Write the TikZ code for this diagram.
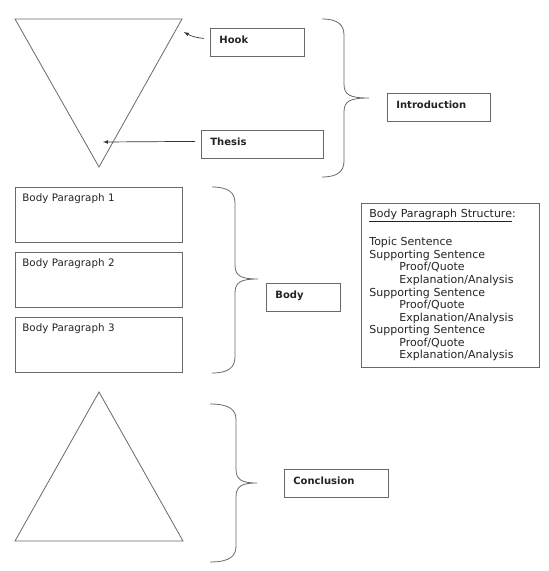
\documentclass[tikz,border=0pt]{standalone}
\usepackage{fontspec}
\setmainfont{DejaVu Sans}
\definecolor{linegray}{RGB}{105,105,105}
\definecolor{textgray}{RGB}{35,35,35}
\tikzstyle{outline} = [draw=linegray, line width=0.8pt]
\tikzstyle{labelbox} = [outline, anchor=north west, inner xsep=9pt, inner ysep=0pt, text height=15pt, text depth=13pt, align=left, text=textgray, font=\fontsize{10}{12}\selectfont\bfseries]
\tikzstyle{parabox} = [outline, anchor=north west, inner xsep=7pt, inner ysep=0pt, text width=153pt, text height=14pt, text depth=41pt, align=left, text=textgray, font=\fontsize{10.3}{12}\selectfont]
\tikzstyle{infobox} = [outline, anchor=north west, inner xsep=8pt, inner ysep=6pt, text width=162pt, align=left, text=textgray, font=\fontsize{11}{12.56}\selectfont]
\tikzstyle{arrow} = [draw=black!80, line width=0.7pt, -latex]

\begin{document}
\begin{tikzpicture}[x=1pt, y=1pt]
    \useasboundingbox (0,0) rectangle (549,-571);

    % introduction funnel
    \draw [outline] (15,-19) coordinate (intro-l) -- (182,-19) coordinate (intro-r) -- (99,-167) coordinate (intro-tip) -- cycle;
    \coordinate (thesis-pt) at (103,-142);
    \node [labelbox, text width=76pt] (hook) at (210,-28) {Hook};
    \node [labelbox, text width=104pt] (thesis) at (201,-130) {Thesis};
    \node [labelbox, text width=85pt] (intro) at (387,-93) {Introduction};

    \draw [arrow] ([xshift=-6pt, yshift=4pt]hook.west) to[out=175, in=-30] ([xshift=2pt, yshift=-13pt]intro-r);
    \draw [arrow] ([xshift=-6pt, yshift=3pt]thesis.west) -- (thesis-pt);

    % body paragraphs
    \node [parabox] (bp1) at (15,-187) {Body Paragraph 1};
    \node [parabox] (bp2) at (15,-252) {Body Paragraph 2};
    \node [parabox] (bp3) at (15,-317) {Body Paragraph 3};
    \node [labelbox, text width=56pt] (body) at (266,-283) {Body};

    \node [infobox] (struct) at (361,-203) {\underline{Body Paragraph Structure}:\\[14.4pt]
        Topic Sentence\\
        Supporting Sentence\\
        \hspace*{30pt}Proof/Quote\\
        \hspace*{30pt}Explanation/Analysis\\
        Supporting Sentence\\
        \hspace*{30pt}Proof/Quote\\
        \hspace*{30pt}Explanation/Analysis\\
        Supporting Sentence\\
        \hspace*{30pt}Proof/Quote\\
        \hspace*{30pt}Explanation/Analysis};

    % conclusion pyramid
    \draw [outline] (15,-541) coordinate (concl-l) -- (183,-541) coordinate (concl-r) -- (99,-392) coordinate (concl-tip) -- cycle;
    \node [labelbox, text width=86pt] (concl) at (284,-469) {Conclusion};

    % curly braces: start x / stem x / tip x / top y / tip y / bottom y
    \foreach \xa/\xv/\xt/\ya/\ym/\yb in {322/344/369/19/98/177, 212/235/258/187/279/373, 210/236/257/404/483/562}
        \draw [outline] (\xa,-\ya) .. controls (\xv-6,-\ya) and (\xv,-\ya-6) .. (\xv,-\ya-16)
            -- (\xv,-\ym+14) .. controls (\xv,-\ym+3) and (\xv+6,-\ym) .. (\xt,-\ym)
            .. controls (\xv+6,-\ym) and (\xv,-\ym-3) .. (\xv,-\ym-14)
            -- (\xv,-\yb+16) .. controls (\xv,-\yb+6) and (\xv-6,-\yb) .. (\xa,-\yb);
\end{tikzpicture}
\end{document}
